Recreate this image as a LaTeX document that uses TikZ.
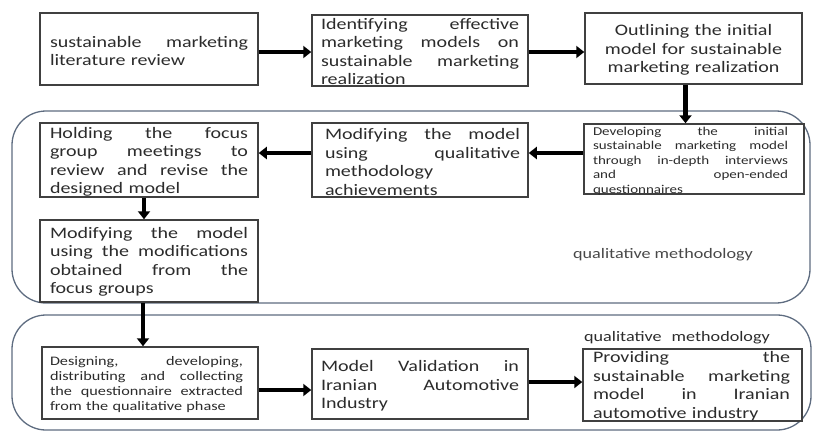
\documentclass[tikz,border=0pt]{standalone}
\usepackage{fontspec}
\usetikzlibrary{arrows.meta}
\newfontfamily\bxf[FakeStretch=1.25]{Carlito}
\definecolor{txtgray}{HTML}{2C2C2C}
\definecolor{boxgray}{HTML}{404040}
\definecolor{regblue}{HTML}{5E6C80}
\definecolor{lblgray}{HTML}{484848}
\tikzset{
  bx/.style={draw=boxgray, line width=1.5pt, fill=white, inner sep=0pt},
  tx/.style={inner sep=0pt, align=left, text=txtgray, font=\bxf\fontsize{16}{18.5}\selectfont},
  txs/.style={inner sep=0pt, align=left, text=txtgray, font=\bxf\fontsize{12}{14.5}\selectfont},
  txm/.style={inner sep=0pt, align=left, text=txtgray, font=\bxf\fontsize{13}{15}\selectfont},
  region/.style={draw=regblue, line width=1.3pt, rounded corners=34pt},
  arr/.style={line width=4.8pt, black, -{Triangle[length=8pt,width=12pt]}},
  lbl/.style={inner sep=0pt, text=lblgray, font=\bxf\fontsize{14.5}{16}\selectfont}
}
\begin{document}
\begin{tikzpicture}[x=1pt,y=-1pt]
\useasboundingbox (0,0) rectangle (813,432);
% regions
\draw[region] (12,111) rectangle (810,303);
\draw[region] (12,315) rectangle (811,430);
% boxes
\node[bx, minimum width=218pt, minimum height=72pt] (b1) at (149,49) {};
\node[bx, minimum width=216pt, minimum height=71pt] (b2) at (420,50.5) {};
\node[bx, minimum width=217pt, minimum height=71pt] (b3) at (693.5,48.5) {};
\node[bx, minimum width=218pt, minimum height=74pt] (b4) at (149,160) {};
\node[bx, minimum width=216pt, minimum height=74pt] (b5) at (420,160) {};
\node[bx, minimum width=220pt, minimum height=70pt] (b6) at (694,159) {};
\node[bx, minimum width=218pt, minimum height=82pt] (b7) at (149,261) {};
\node[bx, minimum width=216pt, minimum height=72pt] (b8) at (150,383) {};
\node[bx, minimum width=216pt, minimum height=70pt] (b9) at (420,384) {};
\node[bx, minimum width=219pt, minimum height=72pt] (b10) at (692.5,385) {};
% texts
\node[tx, text width=198pt] (t1) at ([yshift=-2pt]b1.center) {sustainable\hfill marketing\\literature review};
\node[tx, text width=198pt] (t2) at ([yshift=-1pt]b2.center) {Identifying\hfill effective\\marketing\hfill models\hfill on\\sustainable\hfill marketing\\realization};
\node[tx, text width=210pt, align=center] (t3) at ([yshift=-1.5pt]b3.center) {Outlining the initial\\model for sustainable\\marketing realization};
\node[tx, text width=198pt] (t4) at ([yshift=-2pt]b4.center) {Holding\hfill the\hfill focus\\group\hfill meetings\hfill to\\review\hfill and\hfill revise\hfill the\\designed model};
\node[tx, text width=195pt] (t5) at ([xshift=2.5pt,yshift=-2pt]b5.center) {Modifying\hfill the\hfill model\\using\hfill qualitative\\methodology\\achievements};
\node[txs, text width=195pt] (t6) at ([xshift=-3.5pt,yshift=-2pt]b6.center) {Developing\hfill the\hfill initial\\sustainable\hfill marketing\hfill model\\through\hfill in-depth\hfill interviews\\and\hfill open-ended\\questionnaires};
\node[tx, text width=198pt] (t7) at ([yshift=-1pt]b7.center) {Modifying\hfill the\hfill model\\using\hfill the\hfill modifications\\obtained\hfill from\hfill the\\focus groups};
\node[txm, text width=193pt] (t8) at ([xshift=-3.5pt,yshift=-2pt]b8.center) {Designing,\hfill developing,\\distributing\hfill and\hfill collecting\\the\hfill questionnaire\hfill extracted\\from the qualitative phase};
\node[tx, text width=198pt] (t9) at ([yshift=-2pt]b9.center) {Model\hfill Validation\hfill in\\Iranian\hfill Automotive\\Industry};
\node[tx, text width=197pt] (t10) at ([xshift=-1pt,yshift=-1pt]b10.center) {Providing\hfill the\\sustainable\hfill marketing\\model\hfill in\hfill Iranian\\automotive industry};
% labels
\node[lbl] (l1) at (663,255) {qualitative methodology};
\node[lbl, text=txtgray] (l2) at (677,338) {qualitative\hspace{10pt}methodology};
% arrows
\draw[arr] ([yshift=-3pt]b1.east) -- ([yshift=-3pt]b1.east -| b2.west);
\draw[arr] ([yshift=-1.5pt]b2.east) -- ([yshift=-1.5pt]b2.east -| b3.west);
\draw[arr] ([xshift=-8pt]b3.south) -- ([xshift=-8pt]b3.south |- b6.north);
\draw[arr] ([yshift=6pt]b6.west) -- ([yshift=6pt]b6.west -| b5.east);
\draw[arr] ([yshift=7pt]b5.west) -- ([yshift=7pt]b5.west -| b4.east);
\draw[arr] ([xshift=-5pt]b4.south) -- ([xshift=-5pt]b4.south |- b7.north);
\draw[arr] ([xshift=-6pt]b7.south) -- ([xshift=-6pt]b7.south |- b8.north);
\draw[arr] ([yshift=-7pt]b8.east) -- ([yshift=-7pt]b8.east -| b9.west);
\draw[arr] ([yshift=2pt]b9.east) -- ([yshift=2pt]b9.east -| b10.west);
\end{tikzpicture}
\end{document}
